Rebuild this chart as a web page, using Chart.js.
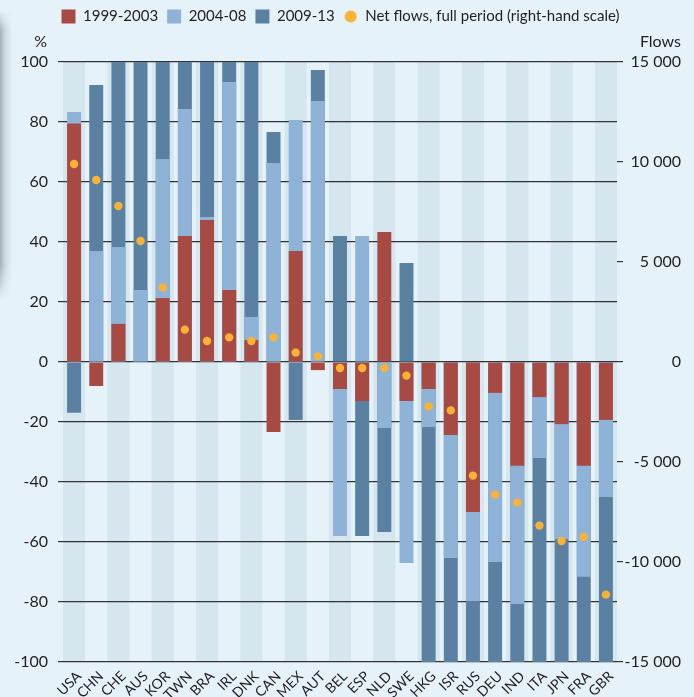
<!DOCTYPE html>
<html>
<head>
<meta charset="utf-8">
<script src="https://cdn.jsdelivr.net/npm/chart.js@4.4.1/dist/chart.umd.min.js"></script>
<style>
  html, body { margin: 0; padding: 0; background: #e6f2f9; }
  #wrap { position: relative; width: 694px; height: 697px; overflow: hidden; }
  #shadow {
    position: absolute; left: 0; top: 0; width: 14px; height: 310px;
    background: linear-gradient(to right, rgba(150,163,170,0.85) 0px, rgba(185,198,205,0.6) 5px, rgba(230,242,249,0) 12px);
    -webkit-mask-image: linear-gradient(to bottom, transparent 10px, black 32px, black 265px, transparent 300px);
    mask-image: linear-gradient(to bottom, transparent 10px, black 32px, black 265px, transparent 300px);
  }
  canvas { position: absolute; left: 0; top: 0; }
</style>
</head>
<body>
<div id="wrap">
  <div id="shadow"></div>
  <canvas id="c" width="694" height="697"></canvas>
</div>
<script>
const categories = ['USA','CHN','CHE','AUS','KOR','TWN','BRA','IRL','DNK','CAN','MEX','AUT','BEL','ESP','NLD','SWE','HKG','ISR','RUS','DEU','IND','ITA','JPN','FRA','GBR'];
const p1999_2003 = [79.5, -8, 12.7, 0, 21.3, 42, 47.3, 24, 7.3, -23.3, 37, -2.7, -9, -13, 43.3, -13, -9, -24.3, -50, -10.3, -34.6, -11.7, -20.7, -34.6, -19.3];
const p2004_08   = [83.3, 37, 38.3, 24, 67.7, 84.3, 48.3, 93.3, 15, 66.3, 80.7, 87, -58, 42, -22, -67, -21.7, -65.3, -79.7, -66.7, -80.7, -32, -59, -71.6, -45];
const p2009_13   = [-16.9, 92.3, 100, 100, 100, 100, 100, 100, 100, 76.7, -19.3, 97.3, 42, -58, -56.7, 33, -100, -100, -100, -100, -100, -100, -100, -100, -100];
const netFlows   = [9900, 9100, 7800, 6050, 3730, 1620, 1050, 1230, 1050, 1230, 470, 280, -300, -300, -300, -680, -2220, -2420, -5680, -6630, -7030, -8180, -8950, -8750, -11630];
const leftTicks  = [-100, -80, -60, -40, -20, 0, 20, 40, 60, 80, 100];
const rightTicks = [-15000, -10000, -5000, 0, 5000, 10000, 15000];

const RED = '#a64a43', LBLUE = '#8fb3d7', DBLUE = '#5a80a2', ORANGE = '#fbb133';
const TXT = '#231f20';
const FONT = 'Lato, "Noto Sans", sans-serif';

function fmt(v) { return String(v).replace(/\B(?=(\d{3})+(?!\d))/g, ' '); }

const dotIcon = document.createElement('canvas');
dotIcon.width = 13; dotIcon.height = 13;
(function(){ const g = dotIcon.getContext('2d'); g.fillStyle = ORANGE; g.beginPath(); g.arc(6.5, 6.5, 6, 0, Math.PI*2); g.fill(); })();

const legendHeightPlugin = {
  id: 'legendHeight',
  beforeUpdate(chart) {
    const lg = chart.legend;
    if (lg && !lg._fixed) {
      const f = lg.fit;
      lg.fit = function() { f.call(this); this.height = 62; };
      lg._fixed = true;
    }
  }
};

const bandPlugin = {
  id: 'bands',
  beforeDraw(chart) {
    const {ctx, chartArea, scales} = chart;
    const xs = scales.x;
    const half = (xs.getPixelForValue(1) - xs.getPixelForValue(0)) / 2;
    ctx.save();
    ctx.fillStyle = '#d5e6ee';
    categories.forEach((c, i) => {
      if (i % 2 === 0) {
        const x = xs.getPixelForValue(i);
        ctx.fillRect(x - half, chartArea.top, half * 2, chartArea.bottom - chartArea.top);
      }
    });
    ctx.restore();
  },
  afterDraw(chart) {
    const {ctx, chartArea} = chart;
    ctx.save();
    ctx.fillStyle = TXT;
    ctx.font = '16px ' + FONT;
    ctx.textBaseline = 'middle';
    ctx.textAlign = 'right';
    ctx.fillText('%', 47, chartArea.top - 20);
    ctx.fillText('Flows', 681, chartArea.top - 20);
    ctx.restore();
  }
};

new Chart(document.getElementById('c'), {
  data: {
    labels: categories,
    datasets: [
      { type: 'bar', label: '1999-2003', data: p1999_2003, backgroundColor: RED, yAxisID: 'y', order: 1, grouped: false },
      { type: 'bar', label: '2004-08', data: p2004_08, backgroundColor: LBLUE, yAxisID: 'y', order: 2, grouped: false },
      { type: 'bar', label: '2009-13', data: p2009_13, backgroundColor: DBLUE, yAxisID: 'y', order: 3, grouped: false },
      { type: 'line', label: 'Net flows, full period (right-hand scale)', data: netFlows, yAxisID: 'y2', order: 0,
        showLine: false, pointRadius: 4.2, pointHoverRadius: 4.2, pointBackgroundColor: ORANGE, backgroundColor: ORANGE,
        pointBorderWidth: 0, borderWidth: 0, borderColor: ORANGE }
    ]
  },
  options: {
    responsive: false,
    animation: false,
    devicePixelRatio: 1,
    datasets: { bar: { barPercentage: 0.63, categoryPercentage: 1, borderWidth: 0 } },
    layout: { padding: { left: 0, right: 13, top: 0, bottom: 0 } },
    plugins: {
      tooltip: { enabled: false },
      legend: {
        display: true,
        position: 'top',
        labels: {
          usePointStyle: true,
          boxWidth: 14, boxHeight: 14,
          padding: 9,
          color: TXT,
          font: { family: FONT, size: 15 },
          sort: (a, b) => a.datasetIndex - b.datasetIndex,
          generateLabels(chart) {
            const items = Chart.defaults.plugins.legend.labels.generateLabels(chart);
            items.forEach(it => {
              const ds = chart.data.datasets[it.datasetIndex];
              if (ds.type === 'bar') { it.pointStyle = 'rect'; it.fillStyle = ds.backgroundColor; it.strokeStyle = ds.backgroundColor; it.lineWidth = 0; }
              else { it.pointStyle = dotIcon; }
            });
            return items;
          }
        }
      }
    },
    scales: {
      x: {
        type: 'category',
        grid: { display: false, drawTicks: false },
        border: { display: false },
        ticks: { minRotation: 45, maxRotation: 45, autoSkip: false, color: TXT, padding: 6, labelOffset: 5, font: { family: FONT, size: 14 } },
        afterFit(s) { s.height = 35; }
      },
      y: {
        position: 'left',
        min: -100, max: 100,
        afterBuildTicks(s) { s.ticks = leftTicks.map(v => ({ value: v })); },
        ticks: { color: TXT, padding: 10, font: { family: FONT, size: 16 } },
        grid: { color: '#333', lineWidth: 1.2, tickLength: 5, drawTicks: true },
        border: { display: false },
        afterFit(s) { s.width = 63; }
      },
      y2: {
        position: 'right',
        min: -15000, max: 15000,
        afterBuildTicks(s) { s.ticks = rightTicks.map(v => ({ value: v })); },
        ticks: { color: TXT, padding: 4, crossAlign: 'far', font: { family: FONT, size: 16 }, callback: v => fmt(v) },
        grid: { drawOnChartArea: false, color: '#333', lineWidth: 1.2, tickLength: 6 },
        border: { display: false },
        afterFit(s) { s.width = 64; }
      }
    }
  },
  plugins: [legendHeightPlugin, bandPlugin]
});
</script>
</body>
</html>
